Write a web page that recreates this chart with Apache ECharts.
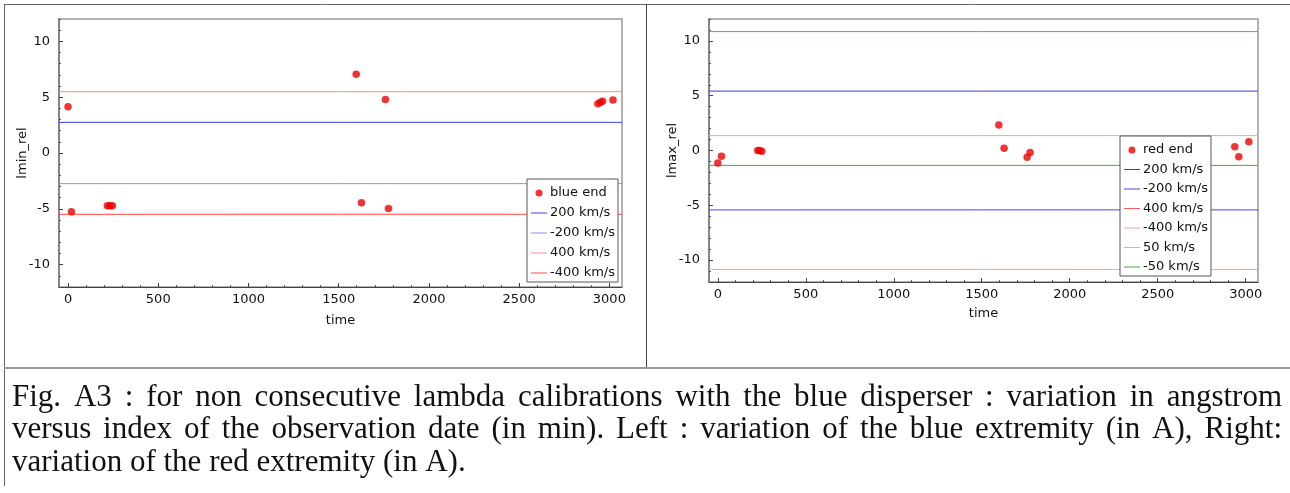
<!DOCTYPE html>
<html>
<head>
<meta charset="utf-8">
<script src="https://cdn.jsdelivr.net/npm/echarts@6/dist/echarts.min.js"></script>
<style>
  html, body { margin: 0; padding: 0; background: #fff; }
  #chart { width: 1290px; height: 493px; }
</style>
</head>
<body>
<div id="chart"></div>
<script>
// Observation times (min) and wavelength offsets (angstrom) of the two spectrum ends
const timeBlue = [0, 19, 218, 232, 246, 1597, 1626, 1759, 1776, 2936, 2951, 2962, 3020];
const blueEnd  = [4.14, -5.27, -4.72, -4.72, -4.72, 7.05, -4.46, 4.80, -4.98, 4.40, 4.55, 4.63, 4.74];
const timeRed  = [0, 21, 227, 237, 250, 1597, 1627, 1758, 1775, 2938, 2961, 3018];
const redEnd   = [-1.13, -0.52, 0.0, 0.0, -0.06, 2.32, 0.21, -0.61, -0.18, 0.34, -0.58, 0.80];

// Velocity reference levels, converted to angstrom at each end
const blueRefNames  = ['200 km/s', '-200 km/s', '400 km/s', '-400 km/s'];
const blueRefValues = [2.745, -2.745, 5.49, -5.49];
const blueRefColors = ['#3c3cff', '#8c8cff', '#ff8c8c', '#ff4646'];
const redRefNames   = ['200 km/s', '-200 km/s', '400 km/s', '-400 km/s', '50 km/s', '-50 km/s'];
const redRefValues  = [5.42, -5.42, 10.85, -10.85, 1.36, -1.36];
const redRefColors  = ['#3a3ad8', '#4646e6', '#ff5a5a', '#ff9a9a', '#8edc8e', '#46a846'];

// Axis ranges and ticks
const xRange = [-50, 3070];
const yRange = [-12, 12];
const xMajorTicks = [0, 500, 1000, 1500, 2000, 2500, 3000];
const xMinorTicks = [100, 200, 300, 400, 600, 700, 800, 900, 1100, 1200, 1300, 1400, 1600, 1700, 1800, 1900,
                     2100, 2200, 2300, 2400, 2600, 2700, 2800, 2900];
const yMajorTicks = [-10, -5, 0, 5, 10];
const yMinorTicks = [-12, -11, -9, -8, -7, -6, -4, -3, -2, -1, 1, 2, 3, 4, 6, 7, 8, 9, 11, 12];

const captionLines = [
  'Fig. A3 : for non consecutive lambda calibrations with the blue disperser : variation in angstrom',
  'versus index of the observation date (in min). Left : variation of the blue extremity (in A), Right:',
  'variation of the red extremity (in A).'
];

const FONT = 'DejaVu Sans';
const pointColor = '#ee0000';
const lineIcon = 'path://M0,0H16V1H0Z';

function mainX(gridIndex, nameGap) {
  return {
    type: 'value', gridIndex, min: xRange[0], max: xRange[1],
    name: 'time', nameLocation: 'middle', nameGap, nameMoveOverlap: false,
    nameTextStyle: { fontFamily: FONT, fontSize: 13, color: '#111' },
    axisLine: { show: true, onZero: false, lineStyle: { color: '#444', width: 1 } },
    axisTick: { show: true, inside: true, length: 4, customValues: xMajorTicks, lineStyle: { color: '#444' } },
    axisLabel: { customValues: xMajorTicks, margin: 6, fontFamily: FONT, fontSize: 13, color: '#111',
                 formatter: v => String(v) },
    splitLine: { show: false }
  };
}
function minorX(gridIndex) {
  return {
    type: 'value', gridIndex, min: xRange[0], max: xRange[1], position: 'bottom',
    axisLine: { show: false, onZero: false },
    axisTick: { show: true, inside: true, length: 2, customValues: xMinorTicks, lineStyle: { color: '#555' } },
    axisLabel: { show: false }, splitLine: { show: false }
  };
}
function mainY(gridIndex, name) {
  return {
    type: 'value', gridIndex, min: yRange[0], max: yRange[1],
    name, nameLocation: 'middle', nameGap: 30, nameMoveOverlap: false,
    nameTextStyle: { fontFamily: FONT, fontSize: 13, color: '#111' },
    axisLine: { show: true, onZero: false, lineStyle: { color: '#777', width: 1.5 } },
    axisTick: { show: true, inside: true, length: 4, customValues: yMajorTicks, lineStyle: { color: '#444' } },
    axisLabel: { customValues: yMajorTicks, margin: 9, fontFamily: FONT, fontSize: 13, color: '#111' },
    splitLine: { show: false }
  };
}
function minorY(gridIndex) {
  return {
    type: 'value', gridIndex, min: yRange[0], max: yRange[1], position: 'left',
    axisLine: { show: false, onZero: false },
    axisTick: { show: true, inside: true, length: 2, customValues: yMinorTicks, lineStyle: { color: '#555' } },
    axisLabel: { show: false }, splitLine: { show: false }
  };
}

// Each reference level is a horizontal line across the full time range
function refSeries(prefix, names, values, colors, axisIndex) {
  return names.map((n, i) => ({
    name: prefix + ' ' + n,
    type: 'line',
    xAxisIndex: axisIndex, yAxisIndex: axisIndex,
    data: [[xRange[0], values[i]], [xRange[1], values[i]]],
    symbol: 'none', showSymbol: false, silent: true,
    color: colors[i],
    lineStyle: { color: colors[i], width: 1 },
    emphasis: { disabled: true },
    z: 2
  }));
}

const pairs = (xs, ys) => xs.map((x, i) => [x, ys[i]]);

const series = [
  { name: 'lmin blue end', type: 'scatter', xAxisIndex: 0, yAxisIndex: 0,
    data: pairs(timeBlue, blueEnd), symbolSize: 7.5, itemStyle: { color: pointColor }, z: 5 },
  ...refSeries('lmin', blueRefNames, blueRefValues, blueRefColors, 0),
  { name: 'lmax red end', type: 'scatter', xAxisIndex: 2, yAxisIndex: 2,
    data: pairs(timeRed, redEnd), symbolSize: 7.5, itemStyle: { color: pointColor }, z: 5 },
  ...refSeries('lmax', redRefNames, redRefValues, redRefColors, 2)
];

const legendBase = {
  orient: 'vertical', backgroundColor: '#fff', borderColor: '#555', borderWidth: 1,
  padding: [6, 3, 1, 4], itemWidth: 16, itemHeight: 7, itemGap: 4,
  selectedMode: false, symbolKeepAspect: true,
  textStyle: { fontFamily: FONT, fontSize: 13, color: '#111', lineHeight: 16, padding: [0, 0, 0, -2] },
  formatter: name => name.slice(name.indexOf(' ') + 1),
  z: 10
};

// Table frame around the two panels and the caption
const frameColor = '#666';
const graphics = [
  { type: 'line', shape: { x1: 4, y1: 4.5, x2: 1290, y2: 4.5 }, style: { stroke: frameColor, lineWidth: 1 } },
  { type: 'line', shape: { x1: 4.5, y1: 4, x2: 4.5, y2: 486 }, style: { stroke: frameColor, lineWidth: 1 } },
  { type: 'line', shape: { x1: 646.5, y1: 4, x2: 646.5, y2: 368 }, style: { stroke: '#444', lineWidth: 1 } },
  { type: 'line', shape: { x1: 4, y1: 368, x2: 1290, y2: 368 }, style: { stroke: '#999', lineWidth: 2 } }
];

// Justified caption (last line left aligned)
const capSize = 31, capFamily = 'Liberation Serif';
const ctx = document.createElement('canvas').getContext('2d');
ctx.font = capSize + 'px "' + capFamily + '"';
const capLeft = 12, capRight = 1282, capTop = 397.5, capStep = 32.5;
captionLines.forEach((line, i) => {
  const y = capTop + i * capStep;
  const words = line.split(' ');
  if (i < captionLines.length - 1) {
    const widths = words.map(w => ctx.measureText(w).width);
    const total = widths.reduce((a, b) => a + b, 0);
    const gap = (capRight - capLeft - total) / (words.length - 1);
    let x = capLeft;
    words.forEach((w, k) => {
      graphics.push({ type: 'text', x, y, style: { text: w, fontFamily: capFamily, fontSize: capSize,
        fill: '#111', align: 'left', verticalAlign: 'middle' } });
      x += widths[k] + gap;
    });
  } else {
    graphics.push({ type: 'text', x: capLeft, y, style: { text: line, fontFamily: capFamily, fontSize: capSize,
      fill: '#111', align: 'left', verticalAlign: 'middle' } });
  }
});

const option = {
  animation: false,
  backgroundColor: '#fff',
  grid: [
    { left: 59, top: 19, width: 563, height: 268, show: true, borderColor: '#999', borderWidth: 1.5, backgroundColor: 'transparent' },
    { left: 709, top: 19, width: 549, height: 263, show: true, borderColor: '#999', borderWidth: 1.5, backgroundColor: 'transparent' }
  ],
  xAxis: [mainX(0, 27), minorX(0), mainX(1, 25), minorX(1)],
  yAxis: [mainY(0, 'lmin_rel'), minorY(0), mainY(1, 'lmax_rel'), minorY(1)],
  legend: [
    Object.assign({}, legendBase, { left: 527, top: 179,
      data: [{ name: 'lmin blue end', icon: 'circle' },
             ...blueRefNames.map(n => ({ name: 'lmin ' + n, icon: lineIcon }))] }),
    Object.assign({}, legendBase, { left: 1120, top: 136, itemGap: 3.5,
      data: [{ name: 'lmax red end', icon: 'circle' },
             ...redRefNames.map(n => ({ name: 'lmax ' + n, icon: lineIcon }))] })
  ],
  series,
  graphic: { elements: graphics }
};

// The minor-tick axes share their grid with the main axes
option.xAxis[1].gridIndex = 0; option.xAxis[3].gridIndex = 1;
option.yAxis[1].gridIndex = 0; option.yAxis[3].gridIndex = 1;
option.xAxis[2].gridIndex = 1; option.yAxis[2].gridIndex = 1;

const chart = echarts.init(document.getElementById('chart'), null, { renderer: 'canvas' });
chart.setOption(option);
</script>
</body>
</html>
